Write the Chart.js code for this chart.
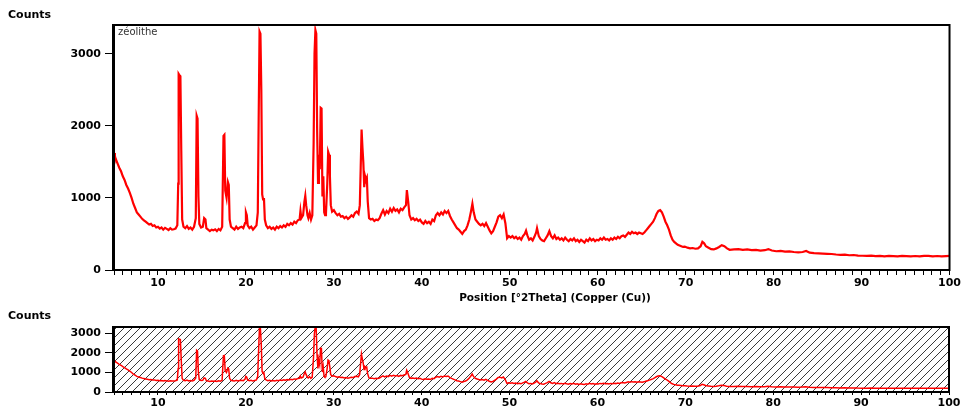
<!DOCTYPE html>
<html>
<head>
<meta charset="utf-8">
<script src="https://cdn.jsdelivr.net/npm/chart.js@4.4.0/dist/chart.umd.min.js"></script>
<style>
  body { margin: 0; background: #fff; width: 963px; height: 412px; overflow: hidden; position: relative; }
  canvas { position: absolute; left: 0; }
  #scan { top: 0; }
  #overview { top: 300px; }
</style>
</head>
<body>
<canvas id="scan" width="963" height="310"></canvas>
<canvas id="overview" width="963" height="112"></canvas>
<script>
// diffractogram, position in degrees 2theta and intensity in counts
var twoTheta = [
  5.0, 5.1, 5.2, 5.4, 5.6, 5.8, 6.0, 6.2, 6.4, 6.6, 6.8, 7.0, 7.2, 7.4, 7.6, 7.8, 8.0, 8.2, 8.4, 8.6, 8.8,
  9.0, 9.2, 9.4, 9.6, 9.8, 10.0, 10.2, 10.4, 10.6, 10.8, 11.0, 11.2, 11.4, 11.6, 11.8, 12.0, 12.2, 12.3,
  12.35, 12.45, 12.55, 12.65, 12.75, 12.9, 13.1, 13.3, 13.5, 13.7, 13.9, 14.1, 14.3, 14.4, 14.5, 14.6,
  14.7, 14.9, 15.1, 15.25, 15.4, 15.5, 15.7, 15.9, 16.1, 16.3, 16.5, 16.7, 16.9, 17.1, 17.3, 17.45, 17.55,
  17.65, 17.8, 17.95, 18.05, 18.15, 18.3, 18.5, 18.7, 18.9, 19.1, 19.3, 19.5, 19.7, 19.9, 20.0, 20.1,
  20.2, 20.4, 20.6, 20.8, 21.0, 21.2, 21.35, 21.45, 21.55, 21.65, 21.75, 21.85, 21.95, 22.05, 22.15,
  22.3, 22.5, 22.7, 22.9, 23.1, 23.3, 23.5, 23.7, 23.9, 24.1, 24.3, 24.5, 24.7, 24.9, 25.1, 25.3, 25.5,
  25.7, 25.9, 26.1, 26.2, 26.3, 26.5, 26.65, 26.75, 26.85, 27.0, 27.1, 27.25, 27.4, 27.55, 27.7, 27.8,
  27.9, 28.0, 28.1, 28.2, 28.3, 28.4, 28.5, 28.6, 28.7, 28.8, 28.9, 29.0, 29.1, 29.25, 29.35, 29.45,
  29.55, 29.65, 29.8, 30.0, 30.2, 30.4, 30.6, 30.8, 31.0, 31.2, 31.4, 31.6, 31.8, 32.0, 32.2, 32.4,
  32.6, 32.8, 32.95, 33.05, 33.15, 33.25, 33.35, 33.45, 33.55, 33.65, 33.75, 33.85, 34.0, 34.2, 34.4,
  34.6, 34.8, 35.0, 35.2, 35.4, 35.6, 35.8, 36.0, 36.2, 36.4, 36.6, 36.8, 37.0, 37.2, 37.4, 37.6, 37.8,
  38.0, 38.2, 38.3, 38.45, 38.6, 38.8, 39.0, 39.2, 39.4, 39.6, 39.8, 40.0, 40.2, 40.4, 40.6, 40.8, 41.0,
  41.2, 41.4, 41.6, 41.8, 42.0, 42.2, 42.4, 42.6, 42.8, 43.0, 43.2, 43.4, 43.6, 43.8, 44.0, 44.2, 44.4,
  44.6, 44.8, 45.0, 45.2, 45.4, 45.6, 45.75, 45.9, 46.1, 46.3, 46.5, 46.7, 46.9, 47.1, 47.3, 47.5, 47.7,
  47.9, 48.1, 48.3, 48.5, 48.7, 48.9, 49.1, 49.3, 49.5, 49.7, 49.9, 50.1, 50.3, 50.5, 50.7, 50.9, 51.1,
  51.3, 51.5, 51.7, 51.85, 52.0, 52.2, 52.4, 52.6, 52.8, 53.0, 53.1, 53.3, 53.5, 53.7, 53.9, 54.1, 54.3,
  54.5, 54.7, 54.9, 55.1, 55.3, 55.5, 55.7, 55.9, 56.1, 56.3, 56.5, 56.7, 56.9, 57.1, 57.3, 57.5, 57.7,
  57.9, 58.1, 58.3, 58.5, 58.7, 58.9, 59.1, 59.3, 59.5, 59.7, 59.9, 60.1, 60.3, 60.5, 60.7, 60.9, 61.1,
  61.3, 61.5, 61.7, 61.9, 62.1, 62.3, 62.5, 62.7, 62.9, 63.1, 63.3, 63.5, 63.7, 63.9, 64.1, 64.3, 64.5,
  64.7, 64.9, 65.1, 65.3, 65.5, 65.7, 65.9, 66.1, 66.3, 66.5, 66.7, 66.9, 67.1, 67.3, 67.5, 67.7, 67.9,
  68.1, 68.3, 68.5, 68.7, 68.9, 69.1, 69.3, 69.5, 69.7, 69.9, 70.2, 70.5, 70.8, 71.1, 71.4, 71.7, 71.9,
  72.1, 72.3, 72.6, 72.9, 73.2, 73.5, 73.8, 74.1, 74.4, 74.7, 75.0, 75.5, 76.0, 76.5, 77.0, 77.5, 78.0,
  78.5, 79.0, 79.4, 79.8, 80.3, 80.8, 81.3, 81.8, 82.3, 82.8, 83.3, 83.7, 84.1, 84.6, 85.1, 85.6, 86.1,
  86.6, 87.1, 87.6, 88.1, 88.6, 89.1, 89.6, 90.1, 90.6, 91.1, 91.6, 92.1, 92.6, 93.1, 93.6, 94.1, 94.6,
  95.1, 95.6, 96.1, 96.6, 97.1, 97.6, 98.1, 98.6, 99.1, 99.6, 100.0
];
var counts = [
  1625, 1580, 1540, 1480, 1420, 1370, 1300, 1250, 1180, 1130, 1070, 1000, 920, 860, 800, 770, 740, 710, 690, 670, 650,
  630, 640, 610, 620, 590, 600, 575, 590, 560, 585, 570, 555, 580, 560, 565, 575, 620, 1200,
  2720, 2700, 2690, 1650, 700, 600, 580, 610, 570, 590, 560, 600, 720, 2140, 2100, 1020,
  640, 590, 600, 720, 700, 580, 560, 540, 560, 550, 565, 540, 570, 550, 600, 1860, 1875,
  1100, 1000, 1220, 1180, 700, 600, 580, 560, 600, 570, 590, 600, 580, 650, 800, 760,
  620, 580, 600, 560, 590, 620, 800, 2100, 3310, 3280, 2500, 1050, 980, 1000, 700,
  620, 580, 600, 570, 590, 560, 600, 580, 610, 590, 620, 600, 640, 620, 650, 630, 670,
  650, 690, 700, 820, 720, 760, 950, 1030, 900, 760, 720, 790, 700, 760, 1770, 3000,
  3330, 3280, 1920, 1210, 1600, 1400, 2250, 2240, 1020, 1300, 800, 760, 780, 1200, 1640, 1600,
  1300, 900, 810, 830, 790, 760, 780, 740, 750, 720, 740, 710, 730, 760, 740, 790,
  810, 780, 900, 1420, 1950, 1700, 1490, 1150, 1300, 1250, 1280, 950, 720, 700, 710,
  680, 700, 690, 720, 780, 830, 770, 820, 790, 850, 810, 860, 820, 840, 800, 850, 830,
  870, 900, 1110, 950, 760, 700, 720, 690, 710, 680, 700, 660, 640, 680, 650, 670, 640,
  700, 680, 760, 790, 760, 800, 770, 820, 790, 820, 750, 700, 660, 620, 580, 560, 530,
  500, 540, 560, 620, 700, 820, 920, 800, 700, 670, 640, 620, 640, 610, 650, 600, 550,
  510, 540, 600, 660, 740, 760, 720, 770, 650, 440, 470, 450, 470, 440, 460, 430, 450,
  420, 470, 500, 545, 480, 420, 440, 410, 460, 520, 580, 470, 430, 410, 400, 440, 480,
  540, 470, 440, 480, 430, 450, 420, 440, 410, 450, 420, 400, 430, 410, 440, 400, 420,
  390, 420, 400, 380, 420, 400, 440, 410, 430, 400, 420, 410, 440, 420, 450, 420, 430,
  410, 440, 420, 450, 430, 460, 440, 470, 480, 460, 490, 520, 500, 530, 510, 520, 500,
  520, 510, 500, 520, 550, 580, 610, 640, 670, 720, 780, 820, 830, 800, 740, 670, 620,
  560, 480, 420, 390, 370, 350, 340, 330, 320, 325, 310, 300, 305, 295, 300, 330, 390,
  370, 330, 310, 290, 285, 300, 320, 345, 330, 300, 280, 285, 290, 280, 285, 275, 280,
  270, 275, 290, 270, 260, 265, 255, 258, 250, 245, 250, 265, 240, 235, 232, 228, 225,
  222, 215, 210, 212, 205, 208, 200, 198, 195, 200, 192, 195, 190, 196, 193, 190, 195,
  192, 190, 194, 188, 195, 196, 190, 194, 188, 193, 195
];
var xTickLabels = [10, 20, 30, 40, 50, 60, 70, 80, 90, 100];
var yTickValues = [0, 1000, 2000, 3000];

var points = twoTheta.map(function (t, i) { return { x: t, y: counts[i] }; });
var boldFont = { family: 'DejaVu Sans', size: 11, weight: 'bold' };

// diagonal hatch used behind the overview trace
function hatchPattern(ctx) {
  var c = document.createElement('canvas');
  c.width = 8; c.height = 8;
  var p = c.getContext('2d');
  p.strokeStyle = '#3a3a3a';
  p.lineWidth = 1;
  p.beginPath();
  p.moveTo(0, 8); p.lineTo(8, 0);
  p.moveTo(-1, 1); p.lineTo(1, -1);
  p.moveTo(7, 9); p.lineTo(9, 7);
  p.stroke();
  return ctx.createPattern(c, 'repeat');
}

function makeChart(id, opts) {
  var framePlugin = {
    id: 'frame',
    beforeDatasetsDraw: function (chart) {
      if (!opts.hatch) return;
      var a = chart.chartArea, ctx = chart.ctx;
      ctx.save();
      ctx.fillStyle = hatchPattern(ctx);
      ctx.fillRect(a.left, a.top, a.right - a.left, a.bottom - a.top);
      ctx.restore();
    },
    afterDraw: function (chart) {
      var a = chart.chartArea, ctx = chart.ctx;
      ctx.save();
      ctx.strokeStyle = '#000';
      ctx.lineWidth = 2;
      ctx.strokeRect(a.left, a.top, a.right - a.left, a.bottom - a.top);
      ctx.fillRect(a.left - 2, a.top - 1, 2, a.bottom - a.top + 2);
      ctx.fillStyle = '#000';
      ctx.font = 'bold 11px "DejaVu Sans"';
      ctx.textBaseline = 'middle';
      ctx.fillText('Counts', 8, opts.countsY);
      if (opts.xTitle) {
        ctx.textAlign = 'center';
        ctx.font = 'bold 10.5px "DejaVu Sans"';
        ctx.fillText(opts.xTitle, 555, a.bottom + 28);
      }
      if (opts.sample) {
        ctx.textAlign = 'left';
        ctx.fillStyle = '#333';
        ctx.font = '10px "DejaVu Sans"';
        ctx.fillText(opts.sample, a.left + 4, a.top + 7);
      }
      ctx.restore();
    }
  };

  return new Chart(document.getElementById(id), {
    type: 'line',
    data: {
      datasets: [{
        data: points,
        borderColor: '#ff0000',
        borderWidth: opts.lineWidth,
        pointRadius: 0,
        tension: 0
      }]
    },
    options: {
      responsive: false,
      animation: false,
      events: [],
      layout: { padding: { top: opts.top, right: opts.right, left: 0, bottom: 0 } },
      plugins: { legend: { display: false }, tooltip: { enabled: false } },
      scales: {
        x: {
          type: 'linear',
          min: 5,
          max: 100,
          afterFit: function (s) { s.height = opts.xHeight; },
          border: { color: '#000', width: 2 },
          grid: { drawOnChartArea: false, drawTicks: true, tickLength: opts.xTick, color: '#000' },
          ticks: {
            stepSize: 1,
            autoSkip: false,
            maxRotation: 0,
            padding: 2,
            color: '#000',
            font: boldFont,
            callback: function (v) { return xTickLabels.indexOf(v) >= 0 ? String(v) : ''; }
          }
        },
        y: {
          min: 0,
          max: opts.yMax,
          afterFit: function (s) { s.width = 114; },
          afterBuildTicks: function (s) {
            s.ticks = yTickValues.map(function (v) { return { value: v }; });
          },
          border: { color: '#000', width: 2 },
          grid: { drawOnChartArea: false, drawTicks: true, tickLength: 9, color: '#000' },
          ticks: {
            padding: 4,
            color: '#000',
            font: boldFont,
            callback: function (v) { return String(v); }
          }
        }
      }
    },
    plugins: [framePlugin]
  });
}

makeChart('scan', {
  top: 25, right: 13, xHeight: 40, xTick: 5, yMax: 3400, lineWidth: 2.2,
  countsY: 15, sample: 'zéolithe', xTitle: 'Position [°2Theta] (Copper (Cu))'
});
makeChart('overview', {
  top: 27, right: 14, xHeight: 20, xTick: 3, yMax: 3330, lineWidth: 1.5,
  countsY: 16, hatch: true
});
</script>
</body>
</html>
